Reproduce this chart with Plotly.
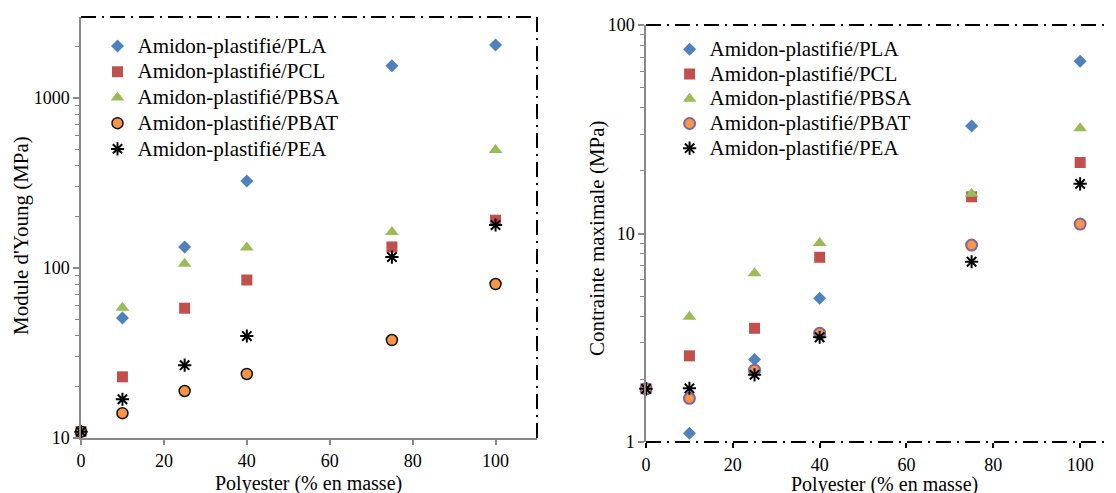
import plotly.graph_objects as go

# ---------------- data ----------------
x_pct = [0, 10, 25, 40, 75, 100]
series_names = ["Amidon-plastifié/PLA", "Amidon-plastifié/PCL", "Amidon-plastifié/PBSA",
                "Amidon-plastifié/PBAT", "Amidon-plastifié/PEA"]

young_pla = [10.9, 50.8, 133, 325, 1550, 2050]
young_pcl = [10.9, 22.9, 58, 85, 133, 191]
young_pbsa = [10.9, 58.3, 106, 132, 163, 494]
young_pbat = [10.9, 14.0, 18.9, 23.8, 37.7, 80.5]
young_pea = [10.9, 16.9, 26.8, 39.8, 116, 179]

stress_pla = [1.8, 1.10, 2.49, 4.89, 32.8, 67]
stress_pcl = [1.8, 2.59, 3.51, 7.69, 15.0, 21.9]
stress_pbsa = [1.8, 3.99, 6.44, 9.0, 15.5, 32]
stress_pbat = [1.8, 1.62, 2.21, 3.32, 8.8, 11.1]
stress_pea = [1.8, 1.81, 2.10, 3.18, 7.32, 17.3]

x_ticks = [0, 20, 40, 60, 80, 100]
young_ticks = [10, 100, 1000]
stress_ticks = [1, 10, 100]

x_title = "Polyester (% en masse)"
young_title = "Module d'Young (MPa)"
stress_title = "Contrainte maximale (MPa)"

# ---------------- style ----------------
FONT = "Liberation Serif, Times New Roman, serif"
GRAY = "#898989"
DASHDOT = "15px,6px,2px,6px"

left_styles = [
    dict(symbol="diamond", size=10, color="#4F81BD"),
    dict(symbol="square", size=11, color="#C0504D"),
    dict(symbol="triangle-up", size=12, color="#9BBB59"),
    dict(symbol="circle", size=11, color="#F79646", line=dict(color="#111111", width=1.5)),
    dict(symbol="asterisk-open", size=11, color="black", line=dict(color="black", width=2)),
]
right_styles = [
    dict(symbol="diamond", size=10, color="#4F81BD"),
    dict(symbol="square", size=11, color="#C0504D"),
    dict(symbol="triangle-up", size=12, color="#9BBB59"),
    dict(symbol="circle", size=11, color="#F79646", line=dict(color="#8064A2", width=2)),
    dict(symbol="asterisk-open", size=11, color="black", line=dict(color="black", width=2)),
]

young_data = [young_pla, young_pcl, young_pbsa, young_pbat, young_pea]
stress_data = [stress_pla, stress_pcl, stress_pbsa, stress_pbat, stress_pea]

fig = go.Figure()

def legend_name(n):
    return "<span style='font-size:21px'>" + n + "</span>"

for name, ys, st in zip(series_names, young_data, left_styles):
    fig.add_trace(go.Scatter(x=x_pct, y=ys, mode="markers", name=legend_name(name),
                             marker=st, xaxis="x", yaxis="y", legend="legend",
                             cliponaxis=False))
for name, ys, st in zip(series_names, stress_data, right_styles):
    fig.add_trace(go.Scatter(x=x_pct, y=ys, mode="markers", name=legend_name(name),
                             marker=st, xaxis="x2", yaxis="y2", legend="legend2",
                             cliponaxis=False))

W, H = 1116, 493
OFF = 8  # page body margin in the browser
def px_x(p):
    return (p - OFF) / W
def px_y(p):
    return (H - (p - OFF)) / H

minor_vals = [m * 10 ** e for e in range(0, 4) for m in range(2, 10)]

tickfont = dict(family=FONT, size=18, color="black")

fig.update_layout(
    template="none",
    width=W, height=H,
    margin=dict(l=0, r=0, t=0, b=0, autoexpand=False),
    paper_bgcolor="white", plot_bgcolor="white",
    font=dict(family=FONT, color="black"),
    showlegend=True,
    xaxis=dict(domain=[px_x(81), px_x(537)], range=[0, 110], tickvals=x_ticks, automargin=False,
               showgrid=False, zeroline=False, showline=True, linecolor=GRAY, linewidth=1.5,
               ticks="outside", ticklen=5, tickcolor=GRAY, tickwidth=1.5, tickfont=tickfont,
               ticklabelstandoff=1, anchor="y"),
    yaxis=dict(domain=[px_y(438), px_y(17)], type="log", range=[1, 3.4765], tickvals=young_ticks,
               automargin=False,
               showgrid=False, zeroline=False, showline=True, linecolor=GRAY, linewidth=1.5,
               ticks="outside", ticklen=6, tickcolor=GRAY, tickwidth=1.5, tickfont=tickfont,
               minor=dict(tickvals=minor_vals, ticks="outside", ticklen=4, tickcolor=GRAY,
                          tickwidth=1, showgrid=False),
               anchor="x"),
    xaxis2=dict(domain=[px_x(646), 1.0], range=[0, 110.1], tickvals=x_ticks, automargin=False,
                showgrid=False, zeroline=False, showline=False,
                ticks="outside", ticklen=5, tickcolor="black", tickwidth=1.5, tickfont=tickfont,
                ticklabelstandoff=1, anchor="y2"),
    yaxis2=dict(domain=[px_y(442), px_y(25)], type="log", range=[0, 2], tickvals=stress_ticks,
                automargin=False,
                showgrid=False, zeroline=False, showline=True, linecolor=GRAY, linewidth=1.5,
                ticks="outside", ticklen=6, tickcolor=GRAY, tickwidth=1.5, tickfont=tickfont,
                minor=dict(tickvals=minor_vals, ticks="outside", ticklen=4, tickcolor=GRAY,
                           tickwidth=1, showgrid=False),
                anchor="x2"),
    legend=dict(x=px_x(97.5), y=px_y(28), xanchor="left", yanchor="top",
                bgcolor="rgba(0,0,0,0)", borderwidth=0,
                font=dict(family=FONT, size=17.5, color="black"), itemwidth=30),
    legend2=dict(x=px_x(669.6), y=px_y(32), xanchor="left", yanchor="top",
                 bgcolor="rgba(0,0,0,0)", borderwidth=0,
                 font=dict(family=FONT, size=16.7, color="black"), itemwidth=30),
)

# dash-dot frame lines
frame = dict(color="black", width=2, dash=DASHDOT)
fig.add_shape(type="line", xref="x domain", yref="y domain", x0=0, x1=1, y0=1, y1=1, line=frame)
fig.add_shape(type="line", xref="x domain", yref="y domain", x0=1, x1=1, y0=0, y1=1, line=frame)
fig.add_shape(type="line", xref="x2 domain", yref="y2 domain", x0=0, x1=1, y0=1, y1=1, line=frame)
fig.add_shape(type="line", xref="x2 domain", yref="y2 domain", x0=0, x1=1, y0=0, y1=0, line=frame)

title_font = dict(family=FONT, size=21, color="black")
xtitle_font = dict(family=FONT, size=20, color="black")
fig.add_annotation(text=x_title, xref="paper", yref="paper", x=px_x(308), y=px_y(483),
                   showarrow=False, font=xtitle_font, xanchor="center", yanchor="middle")
fig.add_annotation(text=x_title, xref="paper", yref="paper", x=px_x(884), y=px_y(484),
                   showarrow=False, font=xtitle_font, xanchor="center", yanchor="middle")
fig.add_annotation(text=young_title, xref="paper", yref="paper", x=px_x(21), y=px_y(236),
                   showarrow=False, font=title_font, textangle=-90, xanchor="center", yanchor="middle")
fig.add_annotation(text=stress_title, xref="paper", yref="paper", x=px_x(597), y=px_y(238),
                   showarrow=False, font=title_font, textangle=-90, xanchor="center", yanchor="middle")

fig.write_html("out.html")
